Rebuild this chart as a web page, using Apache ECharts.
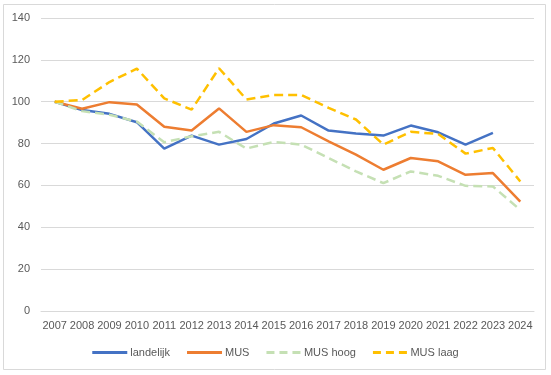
<!DOCTYPE html>
<html>
<head>
<meta charset="utf-8">
<script src="https://cdn.jsdelivr.net/npm/echarts@6/dist/echarts.min.js"></script>
<style>
html,body{margin:0;padding:0;background:#fff;}
#c{width:551px;height:375px;}
</style>
</head>
<body>
<div id="c"></div>
<script>
const years = ['2007','2008','2009','2010','2011','2012','2013','2014','2015','2016','2017','2018','2019','2020','2021','2022','2023','2024'];
const landelijk = [100, 96, 94.2, 90.2, 77.6, 83.8, 79.5, 82.2, 89.6, 93.4, 86.2, 84.8, 83.8, 88.6, 85.4, 79.5, 85.1, null];
const mus = [100, 96.6, 99.8, 98.7, 88, 86.2, 96.8, 85.6, 88.8, 87.8, 81.1, 74.7, 67.5, 73.1, 71.5, 65.1, 65.9, 52.3];
const musHoog = [100, 95.5, 93.8, 90.5, 80.6, 83.5, 85.6, 77.6, 80.8, 79.5, 73.1, 66.7, 61.1, 66.7, 64.6, 59.8, 59.5, 48.3];
const musLaag = [100, 100.8, 109.4, 115.8, 101.6, 96.2, 116, 101.1, 103.2, 103.2, 97.1, 91.5, 79.5, 85.6, 84.6, 75.2, 77.9, 61.9];

const font = 'Liberation Sans, Arial, sans-serif';
const chart = echarts.init(document.getElementById('c'), null, {renderer: 'canvas'});
function line(name, data, color, dashed) {
  return {
    name: name, type: 'line', data: data, symbol: 'none', smooth: false,
    connectNulls: false,
    lineStyle: {color: color, width: 2.5, type: dashed ? [9, 5] : 'solid', cap: 'butt'},
    itemStyle: {color: color},
    emphasis: {disabled: true}
  };
}
const solidIcon = 'path://M0,0 L35,0 L35,3 L0,3 Z';
const dashIcon = 'path://M0,0 h8 v3 h-8 Z M13,0 h8 v3 h-8 Z M26,0 h8 v3 h-8 Z';
chart.setOption({
  animation: false,
  backgroundColor: '#fff',
  grid: {left: 41, right: 17, top: 18, bottom: 64, containLabel: false},
  xAxis: {
    type: 'category', data: years, boundaryGap: true,
    axisLine: {show: true, lineStyle: {color: '#D9D9D9', width: 1}},
    axisTick: {show: false},
    axisLabel: {color: '#595959', fontSize: 11, fontFamily: font, margin: 9, interval: 0}
  },
  yAxis: {
    type: 'value', min: 0, max: 140, interval: 20,
    axisLine: {show: false}, axisTick: {show: false},
    splitLine: {lineStyle: {color: '#D9D9D9', width: 1}},
    axisLabel: {color: '#595959', fontSize: 11, fontFamily: font, margin: 11}
  },
  legend: {
    bottom: 12, left: 'center', itemWidth: 35, itemHeight: 3, itemGap: 17,
    textStyle: {color: '#595959', fontSize: 11, fontFamily: font, padding: [0, 0, 0, -2]},
    data: [
      {name: 'landelijk', icon: solidIcon},
      {name: 'MUS', icon: solidIcon},
      {name: 'MUS hoog', icon: dashIcon, itemStyle: {color: '#C5E0B4'}},
      {name: 'MUS laag', icon: dashIcon, itemStyle: {color: '#FFC000'}}
    ]
  },
  graphic: [{
    type: 'rect', shape: {x: 3.5, y: 4.5, width: 542, height: 365},
    style: {fill: null, stroke: '#D9D9D9', lineWidth: 1}, silent: true, z: -1
  }],
  series: [
    line('landelijk', landelijk, '#4472C4', false),
    line('MUS', mus, '#ED7D31', false),
    line('MUS hoog', musHoog, '#C5E0B4', true),
    line('MUS laag', musLaag, '#FFC000', true)
  ]
});
</script>
</body>
</html>
